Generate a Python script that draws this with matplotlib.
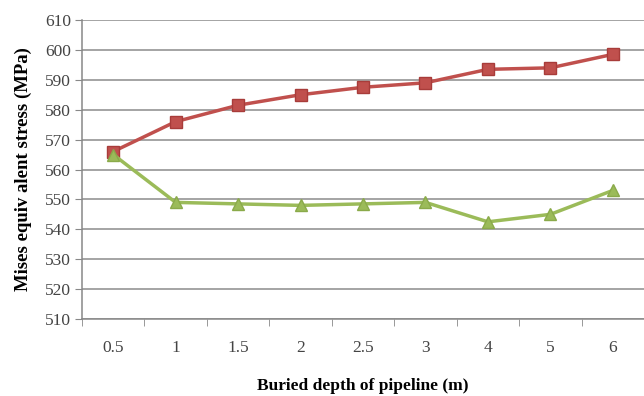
import matplotlib.pyplot as plt
from matplotlib.ticker import FixedLocator, NullFormatter

# Buried depth categories and Mises equivalent stress (MPa) for the two series
depths = ["0.5", "1", "1.5", "2", "2.5", "3", "4", "5", "6"]
stress_red = [566, 576, 581.5, 585, 587.5, 589, 593.5, 594, 598.5]
stress_green = [565, 549, 548.5, 548, 548.5, 549, 542.5, 545, 553]
y_ticks = [510, 520, 530, 540, 550, 560, 570, 580, 590, 600, 610]

plt.rcParams['font.family'] = ['Liberation Serif', 'DejaVu Serif']

fig = plt.figure(figsize=(6.44, 3.96), dpi=100)
ax = fig.add_axes([82 / 644, 1 - 319 / 396, 1 - 82 / 644, (319 - 20) / 396])

x = list(range(len(depths)))
ax.plot(x, stress_red, color='#C0504D', lw=2.5, marker='s', markersize=9,
        markerfacecolor='#C0504D', markeredgecolor='#A83C3A', zorder=3)
ax.plot(x, stress_green, color='#9BBB59', lw=2.5, marker='^', markersize=9,
        markerfacecolor='#9BBB59', markeredgecolor='#8AAA4A', zorder=3)

ax.set_xlim(-0.5, len(depths) - 0.5)
ax.set_ylim(510, 610)
ax.set_yticks(y_ticks)
ax.set_yticklabels([str(v) for v in y_ticks], fontsize=12.5, color='#444444')
ax.set_xticks(x)
ax.set_xticklabels(depths, fontsize=12.5, color='#444444')
ax.tick_params(axis='x', length=0, pad=15)
ax.xaxis.set_minor_locator(FixedLocator([i - 0.5 for i in range(len(depths) + 1)]))
ax.xaxis.set_minor_formatter(NullFormatter())
ax.tick_params(axis='x', which='minor', length=5, color='#888888', direction='out')
ax.tick_params(axis='y', length=5, color='#888888', direction='out', pad=3)

ax.grid(axis='y', color='#8C8C8C', lw=1.1)
ax.set_axisbelow(True)
for side in ['top', 'right']:
    ax.spines[side].set_visible(False)
for side in ['left', 'bottom']:
    ax.spines[side].set_color('#888888')
    ax.spines[side].set_linewidth(1.1)

ax.set_xlabel("Buried depth of pipeline (m)", fontsize=12.5, fontweight='bold', labelpad=16)
ax.set_ylabel("Mises equiv alent stress (MPa)", fontsize=13.5, fontweight='bold', labelpad=9)

fig.savefig("out.png", dpi=100)
